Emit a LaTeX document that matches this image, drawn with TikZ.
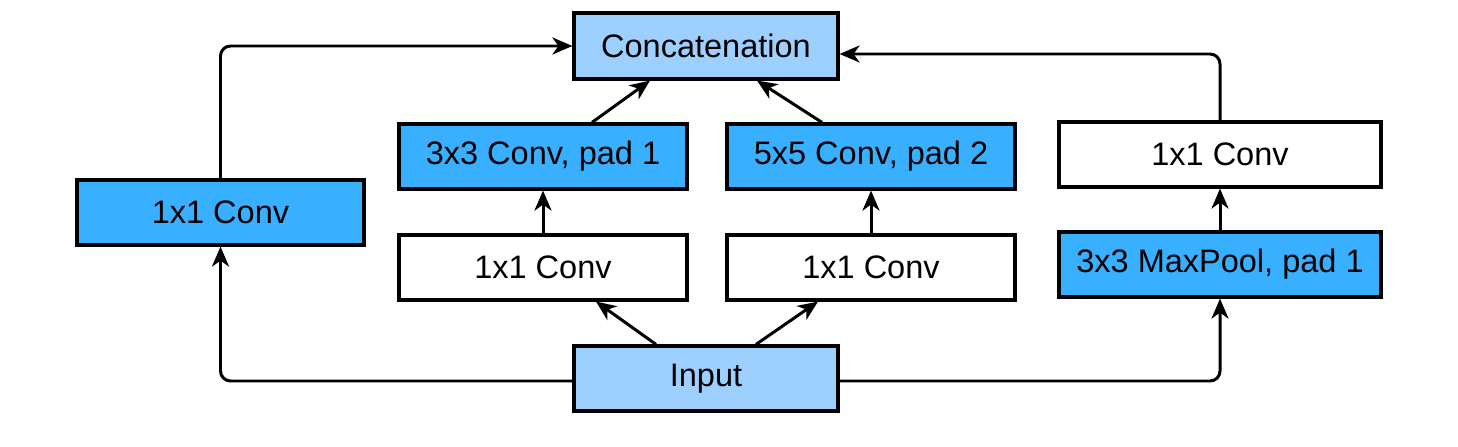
\documentclass[tikz,border=0pt]{standalone}
\usepackage{fontspec}
\setmainfont{Liberation Sans}
\usetikzlibrary{arrows.meta}
\definecolor{lightblue}{HTML}{9DD0FF}
\definecolor{brightblue}{HTML}{38B0FF}
\begin{document}
\begin{tikzpicture}[
        box/.style={draw, line width=1.8pt, minimum height=1.3cm, inner sep=0pt,
            font=\fontsize{18.5}{22}\selectfont},
        narrowbox/.style={box, minimum width=5.28cm},
        widebox/.style={box, minimum width=5.76cm},
        pipe/.style={line width=1.7pt, -{Stealth[length=0.4cm, width=0.34cm, inset=0.12cm]}},
    ]
            \useasboundingbox (0, 0) rectangle (29.16, 8.92);

            \node[narrowbox, fill=lightblue, minimum height=1.32cm] (concat) at (14.12, 8.0) {Concatenation};
            \node[widebox, fill=brightblue] (conv3) at (10.86, 5.79) {3x3 Conv, pad 1};
            \node[widebox, fill=brightblue] (conv5) at (17.42, 5.79) {5x5 Conv, pad 2};
            \node[box, minimum width=6.44cm] (poolconv) at (24.40, 5.83) {1x1 Conv};
            \node[widebox, minimum width=5.74cm, fill=brightblue] (conv1) at (4.41, 4.67) {1x1 Conv};
            \node[widebox] (red3) at (10.86, 3.57) {1x1 Conv};
            \node[widebox] (red5) at (17.42, 3.57) {1x1 Conv};
            \node[box, minimum width=6.44cm, fill=brightblue] (pool) at (24.40, 3.63) {3x3 MaxPool, pad 1};
            \node[narrowbox, fill=lightblue] (input) at (14.12, 1.35) {Input};

            \draw[pipe, rounded corners=0.2cm] ([yshift=-0.05cm]input.west) -| (conv1.south);
            \draw[pipe, rounded corners=0.2cm] ([yshift=-0.05cm]input.east) -| (pool.south);
            \draw[pipe] ([xshift=-1cm]input.north) -- ([xshift=1.06cm]red3.south);
            \draw[pipe] ([xshift=1cm]input.north) -- ([xshift=-1.06cm]red5.south);
            \draw[pipe] (red3) -- (conv3);
            \draw[pipe] (red5) -- (conv5);
            \draw[pipe] (pool) -- (poolconv);
            \draw[pipe] ([xshift=0.98cm]conv3.north) -- ([xshift=-1.12cm]concat.south);
            \draw[pipe] ([xshift=-0.98cm]conv5.north) -- ([xshift=1.02cm]concat.south);
            \draw[pipe, rounded corners=0.2cm] (conv1.north) |- (concat.west);
            \draw[pipe, rounded corners=0.2cm] (poolconv.north) |- ([yshift=-0.16cm]concat.east);
        \end{tikzpicture}
\end{document}
